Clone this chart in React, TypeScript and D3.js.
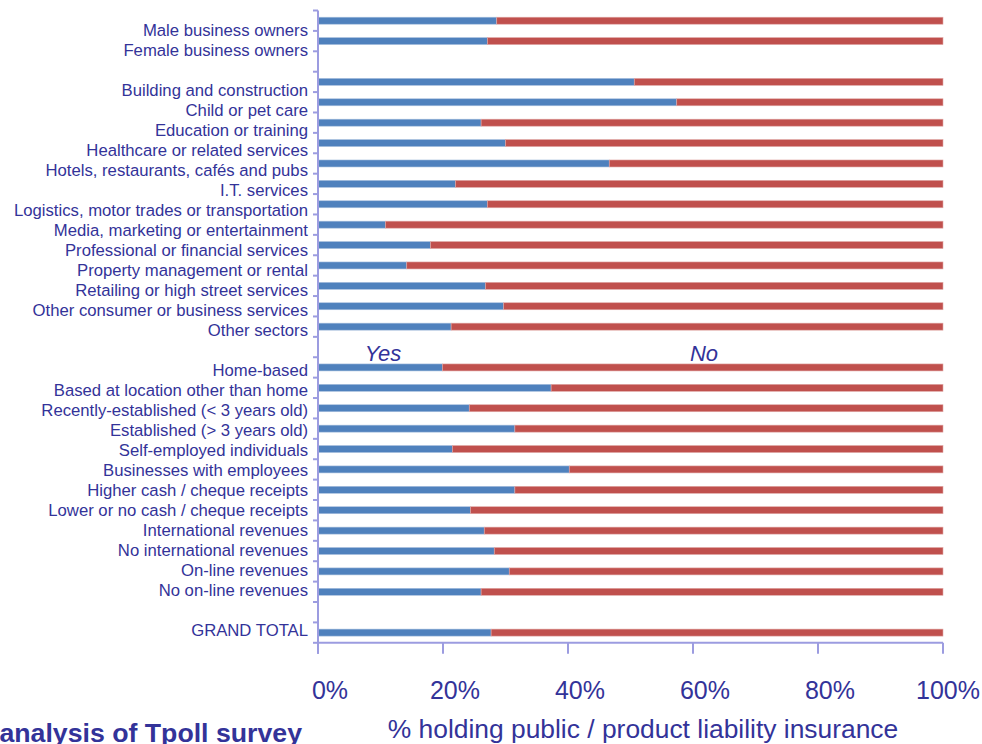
import React from "react";
import * as d3 from "d3";

const categories: string[] = [
  "Male business owners",
  "Female business owners",
  "",
  "Building and construction",
  "Child or pet care",
  "Education or training",
  "Healthcare or related services",
  "Hotels, restaurants, cafés and pubs",
  "I.T. services",
  "Logistics, motor trades or transportation",
  "Media, marketing or entertainment",
  "Professional or financial services",
  "Property management or rental",
  "Retailing or high street services",
  "Other consumer or business services",
  "Other sectors",
  "",
  "Home-based",
  "Based at location other than home",
  "Recently-established (< 3 years old)",
  "Established (> 3 years old)",
  "Self-employed individuals",
  "Businesses with employees",
  "Higher cash / cheque receipts",
  "Lower or no cash / cheque receipts",
  "International revenues",
  "No international revenues",
  "On-line revenues",
  "No on-line revenues",
  "",
  "GRAND TOTAL",
];

const yesValues: (number | null)[] = [
  28.6, 27.1, null,
  50.6, 57.4, 26.1, 30.0, 46.6, 22.0, 27.1, 10.8, 18.0, 14.2, 26.8, 29.7, 21.3,
  null,
  19.9, 37.3, 24.2, 31.5, 21.5, 40.2, 31.5, 24.4, 26.6, 28.2, 30.6, 26.1,
  null,
  27.7,
];

const xTicks: number[] = [0, 20, 40, 60, 80, 100];
const seriesNames = ["Yes", "No"];
const axisTitle = "% holding public / product liability insurance";
const footer = "analysis of Tpoll survey";

const W = 982;
const H = 744;
const left = 318;
const right = 943;
const top = 10.5;
const bottom = 642.8;

const BLUE = "#4F81BD";
const RED = "#C0504D";
const TEXT = "#333399";
const AXIS = "#9C9CE0";

export default function App() {
  const x = d3.scaleLinear().domain([0, 100]).range([left, right]);
  const y = d3
    .scaleBand<number>()
    .domain(d3.range(categories.length))
    .range([top, bottom])
    .padding(0);
  // category labels sit on a slightly tighter grid than the bars
  const yLab = d3
    .scaleBand<number>()
    .domain(d3.range(categories.length))
    .range([20, 640])
    .padding(0);
  const bw = y.bandwidth();
  const barH = 7;
  const gapIdx = categories.indexOf("", 3);
  const yesNoY = (y(gapIdx) as number) + bw / 2 + 14;

  return (
    <svg
      width={W}
      height={H}
      style={{ position: "absolute", left: 0, top: 0, background: "#fff" }}
      fontFamily="'Liberation Sans', Arial, sans-serif"
    >
      {/* bars */}
      {yesValues.map((v, i) => {
        if (v == null) return null;
        const cy = (y(i) as number) + bw / 2;
        return (
          <g key={i}>
            <rect
              x={x(0)}
              y={cy - barH / 2}
              width={x(v) - x(0)}
              height={barH}
              fill={BLUE}
              stroke="#A9C0DE"
              strokeWidth={0.6}
            />
            <rect
              x={x(v)}
              y={cy - barH / 2}
              width={x(100) - x(v)}
              height={barH}
              fill={RED}
              stroke="#E0A8A6"
              strokeWidth={0.6}
            />
          </g>
        );
      })}

      {/* y axis */}
      <line x1={left} x2={left} y1={top} y2={bottom + 11} stroke={AXIS} strokeWidth={2} />
      {d3.range(categories.length + 1).map((i) => {
        const yy = top + i * bw;
        return <line key={"yt" + i} x1={left - 5} x2={left} y1={yy} y2={yy} stroke={AXIS} strokeWidth={2} />;
      })}
      {categories.map((c, i) =>
        c ? (
          <text
            key={"lab" + i}
            x={308}
            y={(yLab(i) as number) + yLab.bandwidth() / 2}
            dy="0.35em"
            textAnchor="end"
            fontSize={16.7}
            fill={TEXT}
          >
            {c}
          </text>
        ) : null
      )}

      {/* x axis */}
      <line x1={left} x2={right} y1={bottom} y2={bottom} stroke={AXIS} strokeWidth={2} />
      {xTicks.map((t) => (
        <g key={"xt" + t}>
          <line x1={x(t)} x2={x(t)} y1={bottom} y2={bottom + 11} stroke={AXIS} strokeWidth={2} />
          <text x={Math.min(x(t) + 12, W - 34)} y={699} textAnchor="middle" fontSize={25} fill={TEXT}>
            {t + "%"}
          </text>
        </g>
      ))}
      <text x={643} y={738} textAnchor="middle" fontSize={26.4} fill={TEXT}>
        {axisTitle}
      </text>

      {/* Yes / No labels */}
      <text x={383} y={yesNoY} textAnchor="middle" fontSize={22} fontStyle="italic" fill={TEXT}>
        {seriesNames[0]}
      </text>
      <text x={704} y={yesNoY} textAnchor="middle" fontSize={22} fontStyle="italic" fill={TEXT}>
        {seriesNames[1]}
      </text>

      {/* footer */}
      <text x={302} y={742} textAnchor="end" fontSize={26.7} fontWeight="bold" fill={TEXT}>
        {footer}
      </text>
    </svg>
  );
}
